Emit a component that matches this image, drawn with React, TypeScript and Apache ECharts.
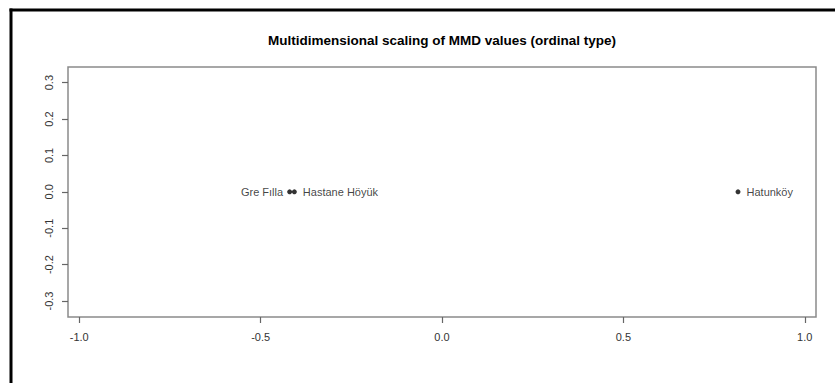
import React, { useEffect, useRef } from "react";
import * as echarts from "echarts";

const sites = ["Gre Fılla", "Hastane Höyük", "Hatunköy"];
const coordX = [-0.42, -0.407, 0.816];
const coordY = [0.0, 0.0, 0.0];
const labelSides = ["left", "right", "right"];
const xTicks = [-1.0, -0.5, 0.0, 0.5, 1.0];
const yTicks = [-0.3, -0.2, -0.1, 0.0, 0.1, 0.2, 0.3];
const titleText = "Multidimensional scaling of MMD values (ordinal type)";

export default function App() {
  const ref = useRef<HTMLDivElement>(null);
  useEffect(() => {
    if (!ref.current) return;
    const chart = echarts.init(ref.current, null, { renderer: "svg" });
    const font = "'Liberation Sans', Arial, Helvetica, sans-serif";
    chart.setOption({
      animation: false,
      backgroundColor: "#ffffff",
      textStyle: { fontFamily: font },
      grid: {
        left: 68,
        top: 67,
        width: 748,
        height: 250,
        show: true,
        borderColor: "#8a8a8a",
        borderWidth: 1.5,
        backgroundColor: "transparent",
      },
      xAxis: {
        type: "value",
        min: -1.031,
        max: 1.031,
        axisLine: { show: false, onZero: false },
        splitLine: { show: false },
        axisTick: {
          show: true,
          inside: false,
          length: 6,
          customValues: xTicks,
          lineStyle: { color: "#666", width: 1.2 },
        },
        axisLabel: {
          show: true,
          customValues: xTicks,
          margin: 14,
          fontSize: 11,
          color: "#333",
          fontFamily: font,
          formatter: (v: number) => v.toFixed(1),
        },
      },
      yAxis: {
        type: "value",
        min: -0.344,
        max: 0.343,
        axisLine: { show: false, onZero: false },
        splitLine: { show: false },
        axisTick: {
          show: true,
          inside: false,
          length: 6,
          customValues: yTicks,
          lineStyle: { color: "#666", width: 1.2 },
        },
        axisLabel: {
          show: true,
          customValues: yTicks,
          rotate: 90,
          margin: 14,
          fontSize: 11,
          color: "#333",
          fontFamily: font,
          formatter: (v: number) => v.toFixed(1),
        },
      },
      series: [
        {
          type: "scatter",
          symbol: "circle",
          symbolSize: 5,
          itemStyle: { color: "#000" },
          data: sites.map((name, i) => ({
            name,
            value: [coordX[i], coordY[i]],
            label: {
              show: true,
              position: labelSides[i],
              distance: labelSides[i] === "left" ? 4 : 6,
              formatter: "{b}",
              fontSize: 11,
              color: "#111",
              fontFamily: font,
            },
          })),
        },
      ],
      graphic: [
        {
          type: "text",
          x: 442,
          y: 40,
          style: {
            text: titleText,
            fontSize: 13.5,
            fontWeight: "bold",
            fontFamily: font,
            fill: "#000",
            align: "center",
            verticalAlign: "middle",
          },
        },
        {
          type: "line",
          shape: { x1: 9.5, y1: 10, x2: 835, y2: 10 },
          style: { stroke: "#000", lineWidth: 3 },
        },
        {
          type: "line",
          shape: { x1: 11, y1: 8.5, x2: 11, y2: 383 },
          style: { stroke: "#000", lineWidth: 3 },
        },
      ],
    });
    return () => chart.dispose();
  }, []);
  return (
    <div
      ref={ref}
      style={{ position: "fixed", left: 0, top: 0, width: 835, height: 383 }}
    />
  );
}
